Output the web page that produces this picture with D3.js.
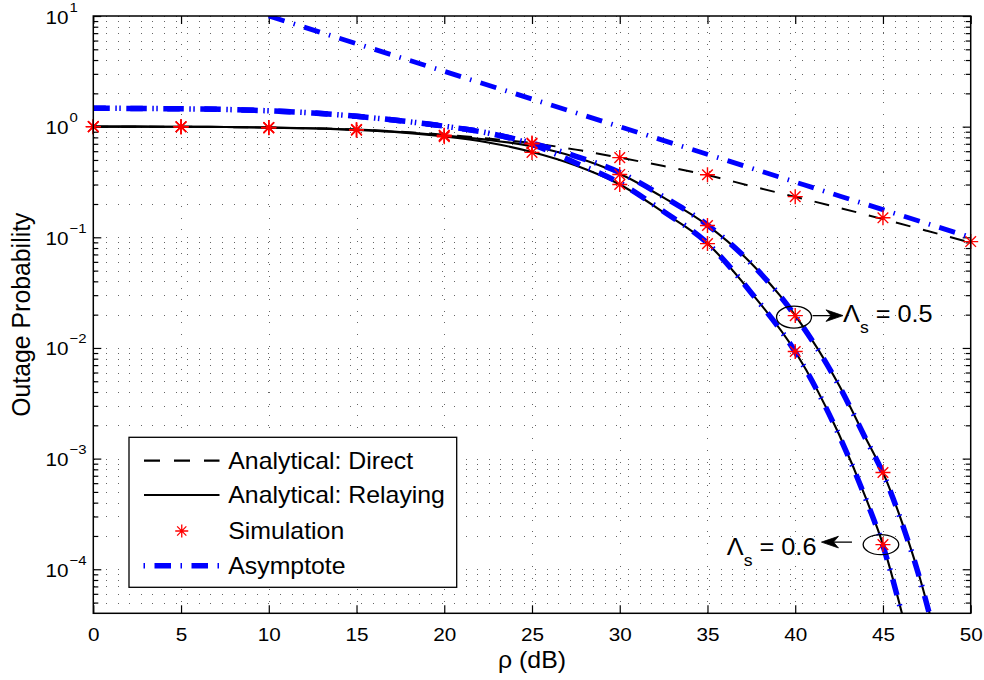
<!DOCTYPE html>
<html><head><meta charset="utf-8">
<script src="https://cdn.jsdelivr.net/npm/d3@7"></script>
<style>
body{margin:0;background:#fff}
svg text{font-family:"Liberation Sans",Arial,Helvetica,sans-serif;fill:#000}
</style>
</head><body>
<svg id="c" width="984" height="680"></svg>
<script>
// ---------------- data ----------------
const rhoTicks = [0,5,10,15,20,25,30,35,40,45,50];
const yTickExps = [-4,-3,-2,-1,0,1];

const rhoDirect = [0,2.5,5,7.5,10,12.5,15,17.5,20,22.5,25,27.5,30,32.5,35,37.5,40,42.5,45,47.5,50];
const pDirect   = [1.0,0.999,0.997,0.99,0.98,0.965,0.94,0.90,0.845,0.78,0.71,0.62,0.525,0.44,0.365,0.29,0.232,0.185,0.146,0.1145,0.0895];

const rhoRelay  = [0,2.5,5,7.5,10,12.5,15,17.5,20,22.5,25,27.5,30,32.5,35,37.5,40,42.5,44,45,46,47,48];
const pRelay05  = [1.0,1.0,0.998,0.993,0.983,0.968,0.94,0.895,0.83,0.76,0.665,0.53,0.375,0.228,0.128,0.058,0.0197,0.0046,0.00155,0.00075,0.00029,0.000095,0.000025];
const pRelay06  = [1.0,1.0,0.998,0.992,0.98,0.963,0.932,0.885,0.815,0.72,0.59,0.445,0.30,0.168,0.088,0.0315,0.0093,0.00165,0.00045,0.000167,0.000045,0.00001,0.000002];
const pAsym05   = [1.47,1.46,1.45,1.43,1.39,1.33,1.24,1.13,1.01,0.875,0.71,0.54,0.385,0.232,0.129,0.0578,0.0195,0.00455,0.00153,0.00074,0.000285,0.000093,0.000024];
const pAsym06   = [1.47,1.46,1.45,1.43,1.39,1.33,1.24,1.13,1.01,0.875,0.69,0.47,0.31,0.171,0.0885,0.0314,0.0092,0.00162,0.00044,0.000163,0.000044,0.0000098,0.000002];

const rhoAsymDirect = [10,20,30,40,50];
const pAsymDirect   = [10,3.16,1.0,0.316,0.1];

const rhoSim    = [0,5,10,15,20,25,30,35,40,45,50];
const simDirect = [1.0,0.997,0.975,0.94,0.835,0.71,0.525,0.368,0.233,0.15,0.0915];
const simRelay05= [1.0,0.998,0.983,0.94,0.83,0.70,0.37,0.128,0.0196,0.00075];
const simRelay06= [1.0,0.998,0.98,0.93,0.81,0.585,0.30,0.0877,0.0093,0.000167];

const legendLabels = ["Analytical: Direct","Analytical: Relaying","Simulation","Asymptote"];

// ---------------- layout ----------------
const M = {left:93.3, right:970.7, top:16, bottom:613.3};
const x = d3.scaleLinear().domain([0,50]).range([M.left,M.right]);
const y = d3.scaleLog().domain([4e-5,10]).range([M.bottom,M.top]);
const svg = d3.select("#c");
const FONT = '"Liberation Sans",Arial,Helvetica,sans-serif';

svg.append("defs").append("clipPath").attr("id","plotclip").append("rect")
  .attr("x",M.left).attr("y",M.top).attr("width",M.right-M.left).attr("height",M.bottom-M.top);

// tick value sets
const yMajor = yTickExps.map(e=>Math.pow(10,e));
const yMinor = [];
for(let e=-5;e<=0;e++) for(let m=2;m<=9;m++){const v=m*Math.pow(10,e); if(v>4.001e-5 && v<10) yMinor.push(v);}

// grid (dotted)
const grid = svg.append("g").attr("stroke","#000").attr("stroke-width",1)
  .attr("stroke-dasharray","1 10.6").attr("shape-rendering","crispEdges").attr("opacity",0.6);
grid.selectAll("line.h").data(yMajor.concat(yMinor)).join("line").attr("class","h")
  .attr("x1",M.left+1).attr("x2",M.right).attr("y1",d=>Math.round(y(d))+0.5).attr("y2",d=>Math.round(y(d))+0.5);
grid.selectAll("line.v").data(rhoTicks.slice(1,-1)).join("line").attr("class","v")
  .attr("y1",M.bottom).attr("y2",M.top).attr("x1",d=>Math.round(x(d))+0.5).attr("x2",d=>Math.round(x(d))+0.5);

// axes
function styleAxis(g){
  g.select(".domain").remove();
  g.selectAll(".tick line").attr("stroke","#000").attr("stroke-width",1.2);
}
const gx = svg.append("g").attr("transform",`translate(0,${M.bottom})`)
  .call(d3.axisBottom(x).tickValues(rhoTicks).tickSizeInner(-8).tickSizeOuter(0).tickPadding(14.6).tickFormat(d3.format("d")))
  .call(styleAxis);
gx.attr("font-size",18).attr("font-family",FONT);
gx.selectAll(".tick text").attr("transform","scale(1.15,1)").attr("fill","#000");

svg.append("g").attr("transform",`translate(0,${M.top})`)
  .call(d3.axisTop(x).tickValues(rhoTicks).tickSizeInner(-8).tickSizeOuter(0).tickFormat(""))
  .call(styleAxis);
svg.append("g").attr("transform",`translate(${M.left},0)`)
  .call(d3.axisLeft(y).tickValues(yMajor).tickSizeInner(-8).tickSizeOuter(0).tickFormat(""))
  .call(styleAxis);
svg.append("g").attr("transform",`translate(${M.left},0)`)
  .call(d3.axisLeft(y).tickValues(yMinor).tickSizeInner(-5).tickSizeOuter(0).tickFormat(""))
  .call(styleAxis);
svg.append("g").attr("transform",`translate(${M.right},0)`)
  .call(d3.axisRight(y).tickValues(yMajor).tickSizeInner(-8).tickSizeOuter(0).tickFormat(""))
  .call(styleAxis);
svg.append("g").attr("transform",`translate(${M.right},0)`)
  .call(d3.axisRight(y).tickValues(yMinor).tickSizeInner(-5).tickSizeOuter(0).tickFormat(""))
  .call(styleAxis);

// y tick labels 10^k
const yl = svg.append("g").selectAll("g").data(yTickExps).join("g");
yl.append("text").attr("transform",d=>`translate(68.5,${y(Math.pow(10,d))+7.5}) scale(1.15,1)`)
  .attr("text-anchor","end").attr("font-size",18).text("10");
yl.append("text").attr("transform",d=>`translate(69.5,${y(Math.pow(10,d))-4.5}) scale(1.15,1)`)
  .attr("text-anchor","start").attr("font-size",13).text(d=>d<0?"\u2212"+(-d):String(d));

// axis labels
svg.append("text").attr("transform",`translate(${(M.left+M.right)/2},668) scale(1.08,1)`)
  .attr("text-anchor","middle").attr("font-size",23).text("\u03c1 (dB)");
svg.append("text").attr("transform",`translate(30,${(M.top+M.bottom)/2}) scale(1.15,1) rotate(-90) scale(1.08,1)`)
  .attr("text-anchor","middle").attr("font-size",23).text("Outage Probability");

// curves
const line = d3.line().x(d=>x(d[0])).y(d=>y(d[1])).curve(d3.curveMonotoneX);
const zip = (a,b)=>a.map((v,i)=>[v,b[i]]);
const plot = svg.append("g").attr("clip-path","url(#plotclip)");
const ASYM_DASH = "16.5 9.5 1.5 9.5";
const ASYM_W = 5.5;

plot.append("path").datum(zip(rhoDirect,pDirect)).attr("d",line)
  .attr("fill","none").attr("stroke","#000").attr("stroke-width",2).attr("stroke-dasharray","15 13");
[pRelay05,pRelay06].forEach(p=>{
  plot.append("path").datum(zip(rhoRelay,p)).attr("d",line)
    .attr("fill","none").attr("stroke","#000").attr("stroke-width",2.1);
});
plot.append("path").datum(zip(rhoAsymDirect,pAsymDirect)).attr("d",line)
  .attr("fill","none").attr("stroke","#0000ff").attr("stroke-width",ASYM_W-0.7).attr("stroke-dasharray",ASYM_DASH);
[pAsym05,pAsym06].forEach((p,i)=>{
  plot.append("path").datum(zip(rhoRelay,p)).attr("d",line)
    .attr("fill","none").attr("stroke","#0000ff").attr("stroke-width",ASYM_W)
    .attr("stroke-dasharray",ASYM_DASH).attr("stroke-dashoffset",i*4);
});

// star markers
function starPath(r){
  const d=r*0.7071;
  return `M${-r},0L${r},0M0,${-r}L0,${r}M${-d},${-d}L${d},${d}M${-d},${d}L${d},${-d}`;
}
const simAll = [].concat(zip(rhoSim,simDirect), zip(rhoSim.slice(0,simRelay05.length),simRelay05), zip(rhoSim.slice(0,simRelay06.length),simRelay06));
svg.append("g").selectAll("path").data(simAll).join("path")
  .attr("transform",d=>`translate(${x(d[0])},${y(d[1])})`)
  .attr("d",starPath(7.5)).attr("fill","none").attr("stroke","#ff0000").attr("stroke-width",1.4);

// frame
svg.append("rect").attr("x",M.left).attr("y",M.top).attr("width",M.right-M.left).attr("height",M.bottom-M.top)
  .attr("fill","none").attr("stroke","#000").attr("stroke-width",1.5);

// annotations
function arrowHead(g,tx,ty,dir){
  const L=17,Wd=5.8,n=5;
  g.append("path").attr("d",`M${tx},${ty}L${tx-dir*L},${ty-Wd}L${tx-dir*(L-n)},${ty}L${tx-dir*L},${ty+Wd}Z`)
    .attr("fill","#000").attr("stroke","#000").attr("stroke-width",0.8);
}
const ann = svg.append("g");
{
  const cx=x(40)-1.2, cy=y(simRelay05[8])+1.5, ay=y(simRelay05[8]);
  ann.append("ellipse").attr("cx",cx).attr("cy",cy).attr("rx",17.5).attr("ry",11)
    .attr("fill","none").attr("stroke","#000").attr("stroke-width",1.3);
  const tip = cx+49;
  ann.append("line").attr("x1",cx+18.5).attr("x2",tip-8).attr("y1",ay).attr("y2",ay).attr("stroke","#000").attr("stroke-width",1.3);
  arrowHead(ann,tip,ay,1);
  const t = ann.append("text").attr("transform",`translate(${tip},${ay+6.4}) scale(1.1,1)`).attr("font-size",23);
  t.append("tspan").text("\u039b");
  t.append("tspan").attr("dy",11).attr("font-size",16).text("s");
  t.append("tspan").attr("dy",-11).text(" = 0.5");
}
{
  const cx=x(45)-2, cy=y(simRelay06[9]), ay=y(simRelay06[9])-2.5;
  ann.append("ellipse").attr("cx",cx).attr("cy",cy).attr("rx",17.8).attr("ry",10)
    .attr("fill","none").attr("stroke","#000").attr("stroke-width",1.3);
  const tip = cx-59.5;
  ann.append("line").attr("x1",cx-29).attr("x2",tip+8).attr("y1",ay).attr("y2",ay).attr("stroke","#000").attr("stroke-width",1.3);
  arrowHead(ann,tip,ay,-1);
  const t = ann.append("text").attr("transform",`translate(${tip-5},${ay+13}) scale(1.1,1)`)
    .attr("font-size",23).attr("text-anchor","end");
  t.append("tspan").text("\u039b");
  t.append("tspan").attr("dy",11).attr("font-size",16).text("s");
  t.append("tspan").attr("dy",-11).text(" = 0.6");
}

// legend
const lg = svg.append("g");
lg.append("rect").attr("x",129).attr("y",437.3).attr("width",327.7).attr("height",150)
  .attr("fill","#fff").attr("stroke","#000").attr("stroke-width",1.3);
const rowsY = [460.7,495,531,565.7];
const sx0=144, sx1=219.5;
lg.append("line").attr("x1",sx0).attr("x2",sx1).attr("y1",rowsY[0]).attr("y2",rowsY[0])
  .attr("stroke","#000").attr("stroke-width",2.2).attr("stroke-dasharray","16 14");
lg.append("line").attr("x1",sx0).attr("x2",sx1).attr("y1",rowsY[1]).attr("y2",rowsY[1])
  .attr("stroke","#000").attr("stroke-width",2.2);
lg.append("path").attr("transform",`translate(${(sx0+sx1)/2},${rowsY[2]})`).attr("d",starPath(6.5))
  .attr("fill","none").attr("stroke","#ff0000").attr("stroke-width",1.3);
lg.append("line").attr("x1",sx0-0.5).attr("x2",sx1).attr("y1",rowsY[3]).attr("y2",rowsY[3])
  .attr("stroke","#0000ff").attr("stroke-width",ASYM_W).attr("stroke-dasharray","1.5 9.5 16.5 9.5");
lg.selectAll("text").data(legendLabels).join("text")
  .attr("transform",(d,i)=>`translate(228.3,${rowsY[i]+7.8}) scale(1.08,1)`)
  .attr("font-size",23).text(d=>d);
</script>
</body></html>
